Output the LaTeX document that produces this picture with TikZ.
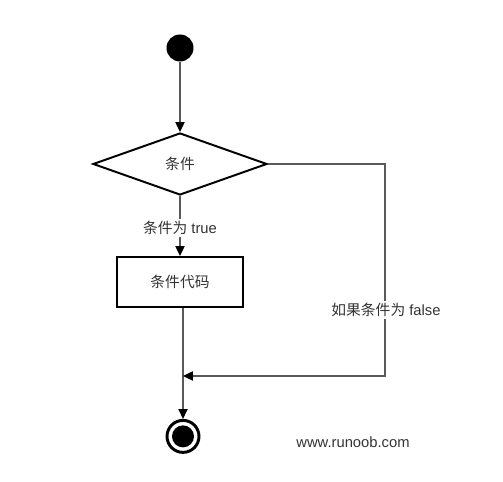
\documentclass[tikz,border=0pt]{standalone}
\usepackage{fontspec}
\setmainfont{Liberation Sans}
\newfontfamily\cjk{Noto Sans CJK SC}
\usetikzlibrary{arrows.meta,shapes.geometric}
\definecolor{txtgray}{HTML}{333333}
\tikzset{
  flow/.style={black!65, line width=1pt, -{Triangle[width=6.5pt,length=7pt,color=black]}},
  line/.style={black!65, line width=1pt},
  decision/.style={diamond, draw, line width=1.4pt, minimum width=4.35cm, minimum height=1.55cm, aspect=2.8, inner sep=0pt},
  action/.style={rectangle, draw, line width=1.4pt, minimum width=3.15cm, minimum height=1.25cm},
  lbl/.style={fill=white, text=txtgray, inner sep=1.5pt}
}
\begin{document}
\begin{tikzpicture}
  \fontsize{10.5}{12}\selectfont
  \useasboundingbox (0,0) rectangle (12.575,12.05);
  % Start and end states
  \node[circle, fill=black, minimum size=0.675cm, inner sep=0pt] (start) at (4.5,10.85) {};
  \node[circle, draw, fill=white, line width=2.1pt, minimum size=0.8cm, inner sep=0pt] (stop) at (4.575,1.14) {};
  \fill (stop) circle (0.275);

  % Decision and code block
  \node[decision, text=txtgray] (cond) at (4.5,7.95) {\cjk 条件};
  \node[action, text=txtgray] (code) at (4.5,5.0) {\cjk 条件代码};

  % Helper points for the false branch
  \coordinate (fcorner) at (9.625,7.95);
  \coordinate (merge) at (4.575,2.65);

  % Connectors
  \draw[flow] (start) -- (cond.north);
  \draw[flow] (cond.south) -- (code.north);
  \draw[line] (code.south -| stop) -- (merge);
  \draw[flow] (merge) -- (stop.north);
  \draw[flow] (cond.east) -- (fcorner) |- (merge);

  % Labels on the connectors
  \node[lbl] (truelbl) at (4.5,6.35) {{\cjk 条件为} true};
  \node[lbl] (falselbl) at (9.65,4.3) {{\cjk 如果条件为} false};
  \node[text=txtgray] (site) at (8.825,1.0) {www.runoob.com};
\end{tikzpicture}
\end{document}
